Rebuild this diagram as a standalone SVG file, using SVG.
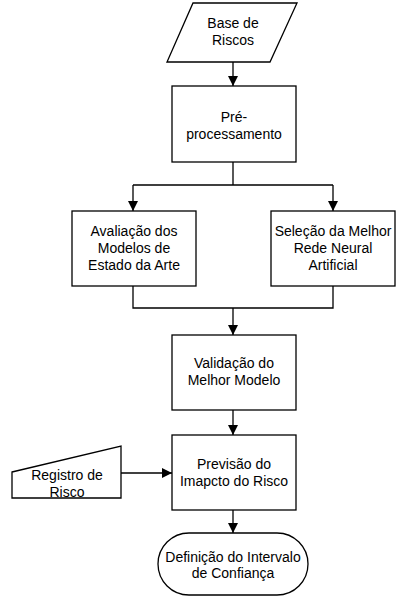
<svg xmlns="http://www.w3.org/2000/svg" width="409" height="598" viewBox="0 0 409 598">
<style>
.n{fill:#ffffff;stroke:#000000;stroke-width:1.3}
.t{font-family:"Liberation Sans",Arial,sans-serif;font-size:14px;fill:#000000;text-anchor:middle}
.c{fill:none;stroke:#000000;stroke-width:1.3}
</style>
<defs>
<marker id="ah" viewBox="0 0 10 10" refX="10" refY="5" markerWidth="10" markerHeight="10" markerUnits="userSpaceOnUse" orient="auto">
<path d="M0,0 L10,5 L0,10 Z" fill="#000000"/>
</marker>
</defs>
<rect width="409" height="598" fill="#ffffff"/>
<g id="connectors">
<path class="c" d="M233,62 V86" marker-end="url(#ah)"/>
<path class="c" d="M233,162 V185 M133,185 H333"/>
<path class="c" d="M133,185 V211" marker-end="url(#ah)"/>
<path class="c" d="M333,185 V211" marker-end="url(#ah)"/>
<path class="c" d="M133,286 V308 H333 V286"/>
<path class="c" d="M233,308 V335" marker-end="url(#ah)"/>
<path class="c" d="M233,410 V435" marker-end="url(#ah)"/>
<path class="c" d="M121,473 H172" marker-end="url(#ah)"/>
<path class="c" d="M233,510 V533" marker-end="url(#ah)"/>
</g>
<g id="base-riscos">
<polygon class="n" points="193,3 297,3 270,62 167,62"/>
<text class="t" x="233" y="28">Base de</text>
<text class="t" x="233" y="45">Riscos</text>
</g>
<g id="pre-processamento">
<rect class="n" x="172" y="86" width="124" height="76"/>
<text class="t" x="234" y="122">Pré-</text>
<text class="t" x="234" y="139">processamento</text>
</g>
<g id="avaliacao">
<rect class="n" x="72" y="211" width="124" height="75"/>
<text class="t" x="134" y="236">Avaliação dos</text>
<text class="t" x="134" y="253">Modelos de</text>
<text class="t" x="134" y="270">Estado da Arte</text>
</g>
<g id="selecao">
<rect class="n" x="271" y="211" width="124" height="75"/>
<text class="t" x="333" y="236">Seleção da Melhor</text>
<text class="t" x="333" y="253">Rede Neural</text>
<text class="t" x="333" y="270">Artificial</text>
</g>
<g id="validacao">
<rect class="n" x="172" y="335" width="124" height="75"/>
<text class="t" x="234" y="368">Validação do</text>
<text class="t" x="234" y="385">Melhor Modelo</text>
</g>
<g id="previsao">
<rect class="n" x="172" y="435" width="124" height="75"/>
<text class="t" x="234" y="469">Previsão do</text>
<text class="t" x="234" y="486">Imapcto do Risco</text>
</g>
<g id="registro">
<polygon class="n" points="12,472 121,446 121,498 12,498"/>
<text class="t" x="67" y="480">Registro de</text>
<text class="t" x="67" y="497">Risco</text>
</g>
<g id="definicao">
<rect class="n" x="158" y="533" width="150" height="62" rx="31" ry="31"/>
<text class="t" x="233" y="562">Definição do Intervalo</text>
<text class="t" x="233" y="578">de Confiança</text>
</g>
</svg>
